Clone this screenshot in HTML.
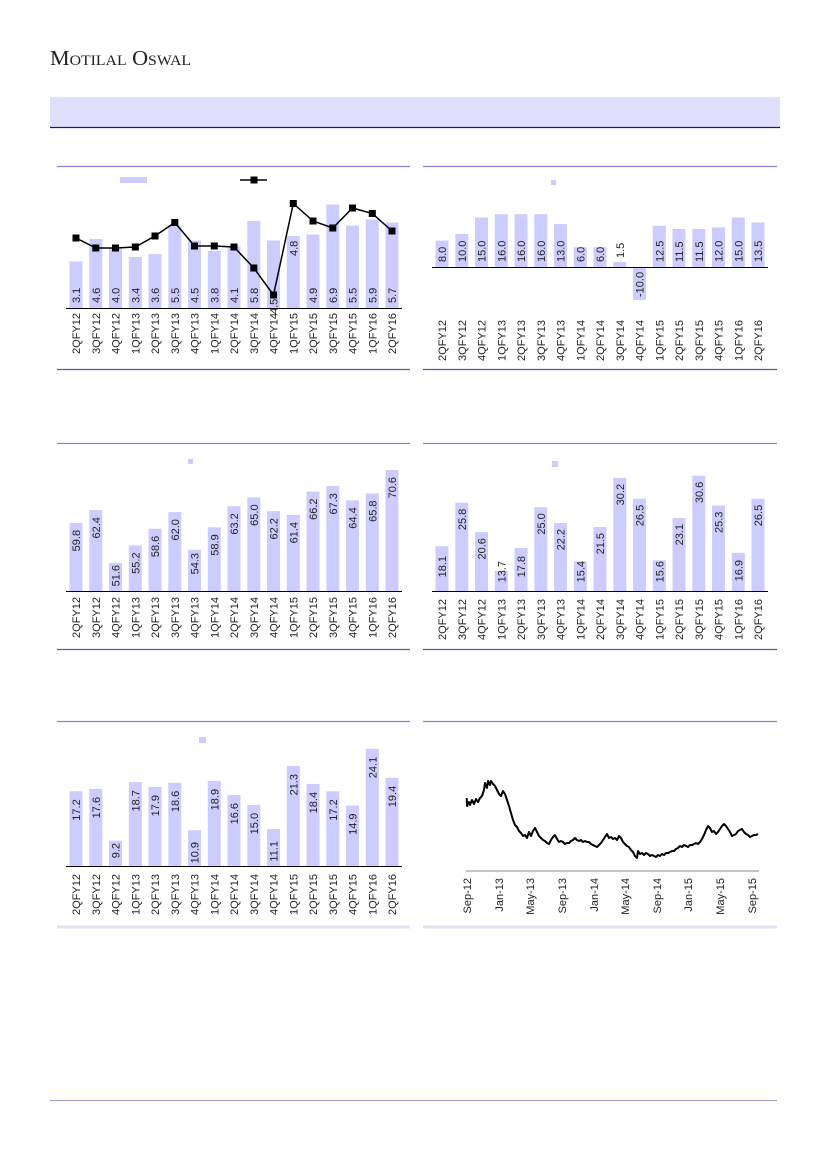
<!DOCTYPE html>
<html><head><meta charset="utf-8"><style>
html,body{margin:0;padding:0;background:#fff}
svg{display:block}
text{font-family:"Liberation Sans",sans-serif;font-size:11px;fill:#222}
</style></head><body>
<svg width="827" height="1169" viewBox="0 0 827 1169" xmlns="http://www.w3.org/2000/svg">
<text x="50" y="65" style="font-family:'Liberation Serif',serif;font-size:21px;font-variant:small-caps;fill:#222" textLength="141" lengthAdjust="spacingAndGlyphs">Motilal Oswal</text>
<rect x="50" y="97" width="730" height="30" fill="#e0e0fc"/>
<line x1="50" y1="127.5" x2="780" y2="127.5" stroke="#1a1a6e" stroke-width="1.2"/>
<g stroke="#8585c8" stroke-width="1.2">
<line x1="57" y1="166.5" x2="410" y2="166.5"/><line x1="423" y1="166.5" x2="777" y2="166.5"/>
<line x1="57" y1="443.5" x2="410" y2="443.5"/><line x1="423" y1="443.5" x2="777" y2="443.5"/>
<line x1="57" y1="721.5" x2="410" y2="721.5"/><line x1="423" y1="721.5" x2="777" y2="721.5"/>
</g>
<g stroke="#5858a8" stroke-width="1.2">
<line x1="57" y1="369.5" x2="410" y2="369.5"/><line x1="423" y1="369.5" x2="777" y2="369.5"/>
<line x1="57" y1="649.5" x2="410" y2="649.5"/><line x1="423" y1="649.5" x2="777" y2="649.5"/>
</g>
<g stroke="#e2e2f8" stroke-width="3">
<line x1="57" y1="927" x2="410" y2="927"/><line x1="423" y1="927" x2="777" y2="927"/>
</g>
<line x1="50" y1="1100.5" x2="777" y2="1100.5" stroke="#a0a0d8" stroke-width="1"/>

<!-- CHART 1 -->
<rect x="120" y="177" width="27" height="6" fill="#ccccff"/>
<line x1="240" y1="180" x2="267" y2="180" stroke="#000" stroke-width="1.5"/>
<rect x="250.5" y="176.5" width="7" height="7" fill="#000"/>
<g fill="#ccccff">
<rect x="69.5" y="261.5" width="13" height="46.5"/><rect x="89.3" y="239" width="13" height="69"/>
<rect x="109" y="248" width="13" height="60"/><rect x="128.8" y="257" width="13" height="51"/>
<rect x="148.5" y="254" width="13" height="54"/><rect x="168.3" y="225.5" width="13" height="82.5"/>
<rect x="188" y="240.5" width="13" height="67.5"/><rect x="207.8" y="251" width="13" height="57"/>
<rect x="227.5" y="246.5" width="13" height="61.5"/><rect x="247.3" y="221" width="13" height="87"/>
<rect x="267" y="240.5" width="13" height="67.5"/><rect x="286.8" y="236" width="13" height="72"/>
<rect x="306.5" y="234.5" width="13" height="73.5"/><rect x="326.3" y="204.5" width="13" height="103.5"/>
<rect x="346" y="225.5" width="13" height="82.5"/><rect x="365.8" y="219.5" width="13" height="88.5"/>
<rect x="385.5" y="222.5" width="13" height="85.5"/>
</g>
<line x1="66" y1="308.5" x2="402" y2="308.5" stroke="#000" stroke-width="1"/>
<g>
<text transform="translate(80,303) rotate(-90)">3.1</text><text transform="translate(99.8,303) rotate(-90)">4.6</text>
<text transform="translate(119.5,303) rotate(-90)">4.0</text><text transform="translate(139.3,303) rotate(-90)">3.4</text>
<text transform="translate(159,303) rotate(-90)">3.6</text><text transform="translate(178.8,303) rotate(-90)">5.5</text>
<text transform="translate(198.5,303) rotate(-90)">4.5</text><text transform="translate(218.3,303) rotate(-90)">3.8</text>
<text transform="translate(238,303) rotate(-90)">4.1</text><text transform="translate(257.8,303) rotate(-90)">5.8</text>
<text transform="translate(277.5,314) rotate(-90)">4.5</text><text transform="translate(297.3,256) rotate(-90)">4.8</text>
<text transform="translate(317,303) rotate(-90)">4.9</text><text transform="translate(336.8,303) rotate(-90)">6.9</text>
<text transform="translate(356.5,303) rotate(-90)">5.5</text><text transform="translate(376.3,303) rotate(-90)">5.9</text>
<text transform="translate(396,303) rotate(-90)">5.7</text>
</g>
<polyline fill="none" stroke="#000" stroke-width="1.5" points="76,238 95.8,248 115.5,248 135.3,247 155,236 174.8,222.5 194.5,246 214.3,246 234,247 253.8,268 273.5,295 293.3,203.5 313,221 332.8,228 352.5,208 372.3,213.5 392,231"/>
<g fill="#000">
<rect x="72.5" y="234.5" width="7" height="7"/><rect x="92.3" y="244.5" width="7" height="7"/>
<rect x="112" y="244.5" width="7" height="7"/><rect x="131.8" y="243.5" width="7" height="7"/>
<rect x="151.5" y="232.5" width="7" height="7"/><rect x="171.3" y="219" width="7" height="7"/>
<rect x="191" y="242.5" width="7" height="7"/><rect x="210.8" y="242.5" width="7" height="7"/>
<rect x="230.5" y="243.5" width="7" height="7"/><rect x="250.3" y="264.5" width="7" height="7"/>
<rect x="270" y="291.5" width="7" height="7"/><rect x="289.8" y="200" width="7" height="7"/>
<rect x="309.5" y="217.5" width="7" height="7"/><rect x="329.3" y="224.5" width="7" height="7"/>
<rect x="349" y="204.5" width="7" height="7"/><rect x="368.8" y="210" width="7" height="7"/>
<rect x="388.5" y="227.5" width="7" height="7"/>
</g>
<g transform="translate(0,313)">
<text transform="translate(80,0) rotate(-90)" text-anchor="end">2QFY12</text><text transform="translate(99.8,0) rotate(-90)" text-anchor="end">3QFY12</text>
<text transform="translate(119.5,0) rotate(-90)" text-anchor="end">4QFY12</text><text transform="translate(139.3,0) rotate(-90)" text-anchor="end">1QFY13</text>
<text transform="translate(159,0) rotate(-90)" text-anchor="end">2QFY13</text><text transform="translate(178.8,0) rotate(-90)" text-anchor="end">3QFY13</text>
<text transform="translate(198.5,0) rotate(-90)" text-anchor="end">4QFY13</text><text transform="translate(218.3,0) rotate(-90)" text-anchor="end">1QFY14</text>
<text transform="translate(238,0) rotate(-90)" text-anchor="end">2QFY14</text><text transform="translate(257.8,0) rotate(-90)" text-anchor="end">3QFY14</text>
<text transform="translate(277.5,0) rotate(-90)" text-anchor="end">4QFY14</text><text transform="translate(297.3,0) rotate(-90)" text-anchor="end">1QFY15</text>
<text transform="translate(317,0) rotate(-90)" text-anchor="end">2QFY15</text><text transform="translate(336.8,0) rotate(-90)" text-anchor="end">3QFY15</text>
<text transform="translate(356.5,0) rotate(-90)" text-anchor="end">4QFY15</text><text transform="translate(376.3,0) rotate(-90)" text-anchor="end">1QFY16</text>
<text transform="translate(396,0) rotate(-90)" text-anchor="end">2QFY16</text>
</g>

<!-- CHART 2 -->
<g transform="translate(366,0)">
<rect x="185" y="180" width="5" height="5" fill="#ccccff"/>
<g fill="#ccccff">
<rect x="69.5" y="240.6" width="13" height="26.4"/><rect x="89.3" y="234" width="13" height="33"/>
<rect x="109" y="217.5" width="13" height="49.5"/><rect x="128.8" y="214.2" width="13" height="52.8"/>
<rect x="148.5" y="214.2" width="13" height="52.8"/><rect x="168.3" y="214.2" width="13" height="52.8"/>
<rect x="188" y="224.1" width="13" height="42.9"/><rect x="207.8" y="247.2" width="13" height="19.8"/>
<rect x="227.5" y="247.2" width="13" height="19.8"/><rect x="247.3" y="262" width="13" height="5"/>
<rect x="267" y="267" width="13" height="33"/><rect x="286.8" y="225.7" width="13" height="41.3"/>
<rect x="306.5" y="229" width="13" height="38"/><rect x="326.3" y="229" width="13" height="38"/>
<rect x="346" y="227.4" width="13" height="39.6"/><rect x="365.8" y="217.5" width="13" height="49.5"/>
<rect x="385.5" y="222.4" width="13" height="44.6"/>
</g>
<line x1="66" y1="267.5" x2="402" y2="267.5" stroke="#000" stroke-width="1"/>
<g>
<text transform="translate(80,262) rotate(-90)">8.0</text><text transform="translate(99.8,262) rotate(-90)">10.0</text>
<text transform="translate(119.5,262) rotate(-90)">15.0</text><text transform="translate(139.3,262) rotate(-90)">16.0</text>
<text transform="translate(159,262) rotate(-90)">16.0</text><text transform="translate(178.8,262) rotate(-90)">16.0</text>
<text transform="translate(198.5,262) rotate(-90)">13.0</text><text transform="translate(218.3,262) rotate(-90)">6.0</text>
<text transform="translate(238,262) rotate(-90)">6.0</text><text transform="translate(257.8,258) rotate(-90)">1.5</text>
<text transform="translate(277.5,297) rotate(-90)">-10.0</text><text transform="translate(297.3,262) rotate(-90)">12.5</text>
<text transform="translate(317,262) rotate(-90)">11.5</text><text transform="translate(336.8,262) rotate(-90)">11.5</text>
<text transform="translate(356.5,262) rotate(-90)">12.0</text><text transform="translate(376.3,262) rotate(-90)">15.0</text>
<text transform="translate(396,262) rotate(-90)">13.5</text>
</g>
<g transform="translate(0,320)">
<text transform="translate(80,0) rotate(-90)" text-anchor="end">2QFY12</text><text transform="translate(99.8,0) rotate(-90)" text-anchor="end">3QFY12</text>
<text transform="translate(119.5,0) rotate(-90)" text-anchor="end">4QFY12</text><text transform="translate(139.3,0) rotate(-90)" text-anchor="end">1QFY13</text>
<text transform="translate(159,0) rotate(-90)" text-anchor="end">2QFY13</text><text transform="translate(178.8,0) rotate(-90)" text-anchor="end">3QFY13</text>
<text transform="translate(198.5,0) rotate(-90)" text-anchor="end">4QFY13</text><text transform="translate(218.3,0) rotate(-90)" text-anchor="end">1QFY14</text>
<text transform="translate(238,0) rotate(-90)" text-anchor="end">2QFY14</text><text transform="translate(257.8,0) rotate(-90)" text-anchor="end">3QFY14</text>
<text transform="translate(277.5,0) rotate(-90)" text-anchor="end">4QFY14</text><text transform="translate(297.3,0) rotate(-90)" text-anchor="end">1QFY15</text>
<text transform="translate(317,0) rotate(-90)" text-anchor="end">2QFY15</text><text transform="translate(336.8,0) rotate(-90)" text-anchor="end">3QFY15</text>
<text transform="translate(356.5,0) rotate(-90)" text-anchor="end">4QFY15</text><text transform="translate(376.3,0) rotate(-90)" text-anchor="end">1QFY16</text>
<text transform="translate(396,0) rotate(-90)" text-anchor="end">2QFY16</text>
</g>
</g>

<!-- CHART 3 -->
<rect x="188" y="459" width="5" height="5" fill="#ccccff"/>
<g fill="#ccccff">
<rect x="69.5" y="522.9" width="13" height="68.1"/><rect x="89.3" y="510.1" width="13" height="80.9"/>
<rect x="109" y="563" width="13" height="28"/><rect x="128.8" y="545.4" width="13" height="45.6"/>
<rect x="148.5" y="528.7" width="13" height="62.3"/><rect x="168.3" y="512.1" width="13" height="78.9"/>
<rect x="188" y="549.8" width="13" height="41.2"/><rect x="207.8" y="527.3" width="13" height="63.7"/>
<rect x="227.5" y="506.2" width="13" height="84.8"/><rect x="247.3" y="497.4" width="13" height="93.6"/>
<rect x="267" y="511.1" width="13" height="79.9"/><rect x="286.8" y="515" width="13" height="76"/>
<rect x="306.5" y="491.5" width="13" height="99.5"/><rect x="326.3" y="486.1" width="13" height="104.9"/>
<rect x="346" y="500.3" width="13" height="90.7"/><rect x="365.8" y="493.5" width="13" height="97.5"/>
<rect x="385.5" y="470" width="13" height="121"/>
</g>
<line x1="66" y1="591.5" x2="402" y2="591.5" stroke="#000" stroke-width="1"/>
<g text-anchor="end">
<text transform="translate(80,529.9) rotate(-90)">59.8</text><text transform="translate(99.8,517.1) rotate(-90)">62.4</text>
<text transform="translate(119.5,565) rotate(-90)">51.6</text><text transform="translate(139.3,552.4) rotate(-90)">55.2</text>
<text transform="translate(159,535.7) rotate(-90)">58.6</text><text transform="translate(178.8,519.1) rotate(-90)">62.0</text>
<text transform="translate(198.5,553) rotate(-90)">54.3</text><text transform="translate(218.3,534.3) rotate(-90)">58.9</text>
<text transform="translate(238,513.2) rotate(-90)">63.2</text><text transform="translate(257.8,504.4) rotate(-90)">65.0</text>
<text transform="translate(277.5,518.1) rotate(-90)">62.2</text><text transform="translate(297.3,522) rotate(-90)">61.4</text>
<text transform="translate(317,498.5) rotate(-90)">66.2</text><text transform="translate(336.8,493.1) rotate(-90)">67.3</text>
<text transform="translate(356.5,507.3) rotate(-90)">64.4</text><text transform="translate(376.3,500.5) rotate(-90)">65.8</text>
<text transform="translate(396,477) rotate(-90)">70.6</text>
</g>
<g transform="translate(0,597)">
<text transform="translate(80,0) rotate(-90)" text-anchor="end">2QFY12</text><text transform="translate(99.8,0) rotate(-90)" text-anchor="end">3QFY12</text>
<text transform="translate(119.5,0) rotate(-90)" text-anchor="end">4QFY12</text><text transform="translate(139.3,0) rotate(-90)" text-anchor="end">1QFY13</text>
<text transform="translate(159,0) rotate(-90)" text-anchor="end">2QFY13</text><text transform="translate(178.8,0) rotate(-90)" text-anchor="end">3QFY13</text>
<text transform="translate(198.5,0) rotate(-90)" text-anchor="end">4QFY13</text><text transform="translate(218.3,0) rotate(-90)" text-anchor="end">1QFY14</text>
<text transform="translate(238,0) rotate(-90)" text-anchor="end">2QFY14</text><text transform="translate(257.8,0) rotate(-90)" text-anchor="end">3QFY14</text>
<text transform="translate(277.5,0) rotate(-90)" text-anchor="end">4QFY14</text><text transform="translate(297.3,0) rotate(-90)" text-anchor="end">1QFY15</text>
<text transform="translate(317,0) rotate(-90)" text-anchor="end">2QFY15</text><text transform="translate(336.8,0) rotate(-90)" text-anchor="end">3QFY15</text>
<text transform="translate(356.5,0) rotate(-90)" text-anchor="end">4QFY15</text><text transform="translate(376.3,0) rotate(-90)" text-anchor="end">1QFY16</text>
<text transform="translate(396,0) rotate(-90)" text-anchor="end">2QFY16</text>
</g>

<!-- CHART 4 -->
<g transform="translate(366,0)">
<rect x="186" y="461" width="6" height="6" fill="#ccccff"/>
<g fill="#ccccff">
<rect x="69.5" y="546.2" width="13" height="44.8"/><rect x="89.3" y="502.7" width="13" height="88.3"/>
<rect x="109" y="532.1" width="13" height="58.9"/><rect x="128.8" y="571" width="13" height="20"/>
<rect x="148.5" y="547.9" width="13" height="43.1"/><rect x="168.3" y="507.2" width="13" height="83.8"/>
<rect x="188" y="523" width="13" height="68"/><rect x="207.8" y="561.4" width="13" height="29.6"/>
<rect x="227.5" y="527" width="13" height="64"/><rect x="247.3" y="477.9" width="13" height="113.1"/>
<rect x="267" y="498.8" width="13" height="92.2"/><rect x="286.8" y="560.3" width="13" height="30.7"/>
<rect x="306.5" y="518" width="13" height="73"/><rect x="326.3" y="475.7" width="13" height="115.3"/>
<rect x="346" y="505.6" width="13" height="85.4"/><rect x="365.8" y="552.9" width="13" height="38.1"/>
<rect x="385.5" y="498.8" width="13" height="92.2"/>
</g>
<line x1="66" y1="591.5" x2="402" y2="591.5" stroke="#000" stroke-width="1"/>
<g text-anchor="end">
<text transform="translate(80,556) rotate(-90)">18.1</text><text transform="translate(99.8,508.7) rotate(-90)">25.8</text>
<text transform="translate(119.5,538.1) rotate(-90)">20.6</text><text transform="translate(139.3,561) rotate(-90)">13.7</text>
<text transform="translate(159,556) rotate(-90)">17.8</text><text transform="translate(178.8,513.2) rotate(-90)">25.0</text>
<text transform="translate(198.5,529) rotate(-90)">22.2</text><text transform="translate(218.3,561) rotate(-90)">15.4</text>
<text transform="translate(238,533) rotate(-90)">21.5</text><text transform="translate(257.8,483.9) rotate(-90)">30.2</text>
<text transform="translate(277.5,504.8) rotate(-90)">26.5</text><text transform="translate(297.3,561) rotate(-90)">15.6</text>
<text transform="translate(317,524) rotate(-90)">23.1</text><text transform="translate(336.8,481.7) rotate(-90)">30.6</text>
<text transform="translate(356.5,511.6) rotate(-90)">25.3</text><text transform="translate(376.3,560) rotate(-90)">16.9</text>
<text transform="translate(396,504.8) rotate(-90)">26.5</text>
</g>
<g transform="translate(0,599)">
<text transform="translate(80,0) rotate(-90)" text-anchor="end">2QFY12</text><text transform="translate(99.8,0) rotate(-90)" text-anchor="end">3QFY12</text>
<text transform="translate(119.5,0) rotate(-90)" text-anchor="end">4QFY12</text><text transform="translate(139.3,0) rotate(-90)" text-anchor="end">1QFY13</text>
<text transform="translate(159,0) rotate(-90)" text-anchor="end">2QFY13</text><text transform="translate(178.8,0) rotate(-90)" text-anchor="end">3QFY13</text>
<text transform="translate(198.5,0) rotate(-90)" text-anchor="end">4QFY13</text><text transform="translate(218.3,0) rotate(-90)" text-anchor="end">1QFY14</text>
<text transform="translate(238,0) rotate(-90)" text-anchor="end">2QFY14</text><text transform="translate(257.8,0) rotate(-90)" text-anchor="end">3QFY14</text>
<text transform="translate(277.5,0) rotate(-90)" text-anchor="end">4QFY14</text><text transform="translate(297.3,0) rotate(-90)" text-anchor="end">1QFY15</text>
<text transform="translate(317,0) rotate(-90)" text-anchor="end">2QFY15</text><text transform="translate(336.8,0) rotate(-90)" text-anchor="end">3QFY15</text>
<text transform="translate(356.5,0) rotate(-90)" text-anchor="end">4QFY15</text><text transform="translate(376.3,0) rotate(-90)" text-anchor="end">1QFY16</text>
<text transform="translate(396,0) rotate(-90)" text-anchor="end">2QFY16</text>
</g>
</g>

<!-- CHART 5 -->
<rect x="199" y="737" width="7" height="6" fill="#ccccff"/>
<g fill="#ccccff">
<rect x="69.5" y="791.3" width="13" height="74.7"/><rect x="89.3" y="788.9" width="13" height="77.1"/>
<rect x="109" y="840.7" width="13" height="25.3"/><rect x="128.8" y="782.1" width="13" height="83.9"/>
<rect x="148.5" y="787" width="13" height="79"/><rect x="168.3" y="782.7" width="13" height="83.3"/>
<rect x="188" y="830.2" width="13" height="35.8"/><rect x="207.8" y="780.9" width="13" height="85.1"/>
<rect x="227.5" y="795" width="13" height="71"/><rect x="247.3" y="804.9" width="13" height="61.1"/>
<rect x="267" y="829" width="13" height="37"/><rect x="286.8" y="766" width="13" height="100"/>
<rect x="306.5" y="783.9" width="13" height="82.1"/><rect x="326.3" y="791.3" width="13" height="74.7"/>
<rect x="346" y="805.5" width="13" height="60.5"/><rect x="365.8" y="748.8" width="13" height="117.2"/>
<rect x="385.5" y="777.8" width="13" height="88.2"/>
</g>
<line x1="66" y1="866.5" x2="402" y2="866.5" stroke="#000" stroke-width="1"/>
<g text-anchor="end">
<text transform="translate(80,799.3) rotate(-90)">17.2</text><text transform="translate(99.8,796.9) rotate(-90)">17.6</text>
<text transform="translate(119.5,843) rotate(-90)">9.2</text><text transform="translate(139.3,790.1) rotate(-90)">18.7</text>
<text transform="translate(159,795) rotate(-90)">17.9</text><text transform="translate(178.8,790.7) rotate(-90)">18.6</text>
<text transform="translate(198.5,842) rotate(-90)">10.9</text><text transform="translate(218.3,788.9) rotate(-90)">18.9</text>
<text transform="translate(238,803) rotate(-90)">16.6</text><text transform="translate(257.8,812.9) rotate(-90)">15.0</text>
<text transform="translate(277.5,841) rotate(-90)">11.1</text><text transform="translate(297.3,774) rotate(-90)">21.3</text>
<text transform="translate(317,791.9) rotate(-90)">18.4</text><text transform="translate(336.8,799.3) rotate(-90)">17.2</text>
<text transform="translate(356.5,813.5) rotate(-90)">14.9</text><text transform="translate(376.3,756.8) rotate(-90)">24.1</text>
<text transform="translate(396,785.8) rotate(-90)">19.4</text>
</g>
<g transform="translate(0,874)">
<text transform="translate(80,0) rotate(-90)" text-anchor="end">2QFY12</text><text transform="translate(99.8,0) rotate(-90)" text-anchor="end">3QFY12</text>
<text transform="translate(119.5,0) rotate(-90)" text-anchor="end">4QFY12</text><text transform="translate(139.3,0) rotate(-90)" text-anchor="end">1QFY13</text>
<text transform="translate(159,0) rotate(-90)" text-anchor="end">2QFY13</text><text transform="translate(178.8,0) rotate(-90)" text-anchor="end">3QFY13</text>
<text transform="translate(198.5,0) rotate(-90)" text-anchor="end">4QFY13</text><text transform="translate(218.3,0) rotate(-90)" text-anchor="end">1QFY14</text>
<text transform="translate(238,0) rotate(-90)" text-anchor="end">2QFY14</text><text transform="translate(257.8,0) rotate(-90)" text-anchor="end">3QFY14</text>
<text transform="translate(277.5,0) rotate(-90)" text-anchor="end">4QFY14</text><text transform="translate(297.3,0) rotate(-90)" text-anchor="end">1QFY15</text>
<text transform="translate(317,0) rotate(-90)" text-anchor="end">2QFY15</text><text transform="translate(336.8,0) rotate(-90)" text-anchor="end">3QFY15</text>
<text transform="translate(356.5,0) rotate(-90)" text-anchor="end">4QFY15</text><text transform="translate(376.3,0) rotate(-90)" text-anchor="end">1QFY16</text>
<text transform="translate(396,0) rotate(-90)" text-anchor="end">2QFY16</text>
</g>

<!-- CHART 6 -->
<line x1="466" y1="871" x2="759" y2="871" stroke="#888" stroke-width="1"/>
<polyline fill="none" stroke="#000" stroke-width="2" stroke-linejoin="round" points="466.7,798 467,806 469,802 470,805 472,800 474,804 476,799 478,802 480,798 482,796 484,790 485,783 487,788 488,781 490,785 491,781 493,784 495,786 497,790 499,794 501,796 503,791 505,794 507,800 509,806 511,813 513,820 515,825 517,827 519,831 521,833 523,836 525,835 527,838 529,832 531,836 533,831 535,828 537,832 539,836 541,838 543,840 545,841 547,843 549,844 551,840 553,837 555,835 557,839 559,842 561,841 563,842 565,844 567,843 569,843 571,841 573,840 575,838 577,840 579,841 581,840 583,842 585,841 587,842 589,842 591,844 593,845 595,846 597,847 599,845 601,843 603,840 605,837 607,834 609,838 611,837 613,839 615,838 617,840 619,836 621,838 623,842 625,844 627,846 629,847 631,850 633,852 635,856 637,858 638,851 640,854 642,853 644,855 646,853 648,854 650,856 652,855 654,856 656,857 658,855 660,856 662,854 664,855 666,853 668,853 670,852 672,851 674,851 676,849 678,848 680,846 682,847 684,845 686,846 688,847 690,845 692,845 694,844 696,843 698,844 700,842 702,839 704,835 706,830 708,826 710,828 712,832 714,831 716,834 718,832 720,829 722,826 724,824 726,826 728,829 730,832 732,836 734,835 736,834 738,831 740,830 742,829 744,832 746,834 748,835 750,837 752,836 754,835 756,835 758,834"/>
<g text-anchor="end">
<text transform="translate(471,878) rotate(-90)">Sep-12</text><text transform="translate(503,878) rotate(-90)">Jan-13</text>
<text transform="translate(534,878) rotate(-90)">May-13</text><text transform="translate(566,878) rotate(-90)">Sep-13</text>
<text transform="translate(598,878) rotate(-90)">Jan-14</text><text transform="translate(629,878) rotate(-90)">May-14</text>
<text transform="translate(661,878) rotate(-90)">Sep-14</text><text transform="translate(692,878) rotate(-90)">Jan-15</text>
<text transform="translate(724,878) rotate(-90)">May-15</text><text transform="translate(756,878) rotate(-90)">Sep-15</text>
</g>
</svg>
</body></html>
